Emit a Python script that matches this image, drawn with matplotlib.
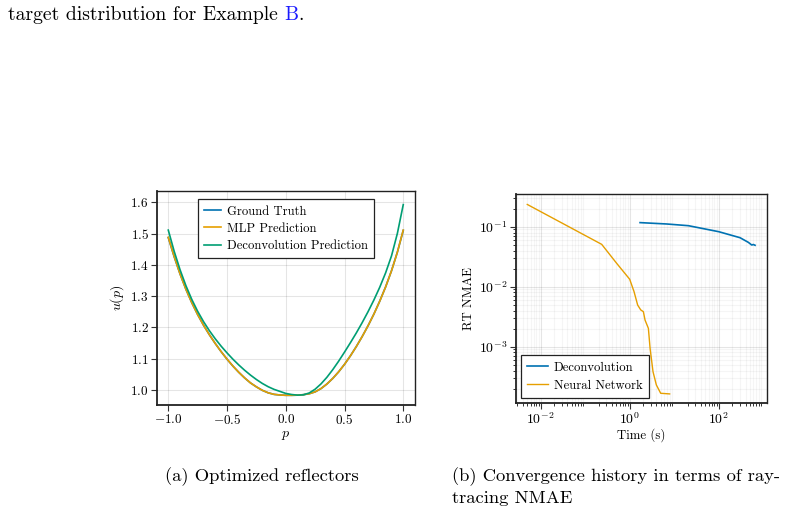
import matplotlib
matplotlib.use("Agg")
import matplotlib.pyplot as plt
from matplotlib.ticker import LogLocator, NullFormatter, FixedLocator

plt.rcParams['font.family'] = ['cmr10', 'DejaVu Serif']
plt.rcParams['mathtext.fontset'] = 'cm'
plt.rcParams['axes.formatter.use_mathtext'] = True
plt.rcParams['axes.unicode_minus'] = True

BLUE = (0/255, 114/255, 178/255)
ORANGE = (230/255, 159/255, 0/255)
GREEN = (0/255, 158/255, 115/255)

# ---- (a) reflectors ----
p = [-1.00, -0.95, -0.90, -0.85, -0.80, -0.75, -0.70, -0.65, -0.60, -0.55, -0.50,
     -0.45, -0.40, -0.35, -0.30, -0.25, -0.20, -0.15, -0.10, -0.05, 0.00,
     0.05, 0.10, 0.15, 0.20, 0.25, 0.30, 0.35, 0.40, 0.45, 0.50,
     0.55, 0.60, 0.65, 0.70, 0.75, 0.80, 0.85, 0.90, 0.95, 1.00]
u_truth = [1.487, 1.426, 1.371, 1.322, 1.279, 1.241, 1.207, 1.1765, 1.1485, 1.1225, 1.0985,
           1.0765, 1.0565, 1.0385, 1.0225, 1.010, 0.999, 0.991, 0.986, 0.984, 0.983,
           0.983, 0.9835, 0.985, 0.988, 0.994, 1.0045, 1.019, 1.037, 1.058, 1.082,
           1.109, 1.1385, 1.1705, 1.205, 1.2425, 1.284, 1.3295, 1.381, 1.4405, 1.510]
u_mlp = [1.488, 1.427, 1.371, 1.322, 1.279, 1.241, 1.207, 1.1765, 1.1485, 1.1225, 1.0985,
         1.0765, 1.0565, 1.0385, 1.0225, 1.010, 0.999, 0.991, 0.986, 0.984, 0.983,
         0.983, 0.9835, 0.985, 0.988, 0.994, 1.0045, 1.019, 1.037, 1.058, 1.082,
         1.109, 1.1385, 1.1705, 1.205, 1.2425, 1.284, 1.3295, 1.381, 1.4405, 1.511]
u_deconv = [1.511, 1.4435, 1.3845, 1.3335, 1.2895, 1.2515, 1.2185, 1.1895, 1.1635, 1.140, 1.1185,
            1.0985, 1.080, 1.063, 1.0475, 1.0335, 1.021, 1.0105, 1.002, 0.9955, 0.989,
            0.9855, 0.9835, 0.9845, 0.9905, 1.0025, 1.0195, 1.0405, 1.065, 1.092, 1.121,
            1.151, 1.182, 1.215, 1.250, 1.2875, 1.3285, 1.3745, 1.4285, 1.5005, 1.5925]

# ---- (b) convergence ----
t_deconv = [1.71, 6.8, 20.8, 100, 301, 464, 552, 600, 656]
e_deconv = [0.117, 0.111, 0.104, 0.0826, 0.0656, 0.0548, 0.0495, 0.0505, 0.0490]
t_nn = [0.005, 0.235, 0.51, 1.0, 1.25, 1.51, 1.77, 2.03, 2.21, 2.63, 2.87, 3.34, 3.97, 4.97, 7.9]
e_nn = [0.235, 0.0508, 0.0245, 0.0133, 0.0083, 0.00494, 0.0041, 0.00383, 0.00278,
        0.00202, 0.00094, 0.000383, 0.00023, 0.000167, 0.000163]

W, H = 786, 513
fig = plt.figure(figsize=(W / 100, H / 100), dpi=100)

def style_axes(ax, labelsize):
    for s in ax.spines.values():
        s.set_color('#222222')
        s.set_linewidth(1.0)
    ax.spines['left'].set_linewidth(1.3)
    ax.spines['bottom'].set_linewidth(1.3)
    ax.tick_params(which='major', direction='out', length=4, width=0.8,
                   color='#333333', labelsize=labelsize, pad=2)
    ax.set_axisbelow(True)

ax1 = fig.add_axes([157 / W, 1 - 405 / H, 258 / W, 214 / H])
ax1.plot(p, u_truth, color=BLUE, lw=1.2, label='Ground Truth')
ax1.plot(p, u_mlp, color=ORANGE, lw=1.2, label='MLP Prediction')
ax1.plot(p, u_deconv, color=GREEN, lw=1.2, label='Deconvolution Prediction')
ax1.set_xlim(-1.096, 1.1)
ax1.set_ylim(0.952, 1.636)
ax1.set_xticks([-1.0, -0.5, 0.0, 0.5, 1.0])
ax1.set_yticks([1.0, 1.1, 1.2, 1.3, 1.4, 1.5, 1.6])
ax1.set_xticklabels(['$-1.0$', '$-0.5$', '$0.0$', '$0.5$', '$1.0$'])
ax1.set_yticklabels(['$1.0$', '$1.1$', '$1.2$', '$1.3$', '$1.4$', '$1.5$', '$1.6$'])
ax1.grid(True, color='black', alpha=0.1, lw=0.8)
ax1.set_xlabel('$p$', fontsize=10, labelpad=1)
ax1.set_ylabel('$u(p)$', fontsize=10, labelpad=3)
style_axes(ax1, 9.5)
leg1 = ax1.legend(loc='upper center', bbox_to_anchor=(0.5, 0.962), fontsize=9.1,
                  frameon=True, fancybox=False, edgecolor='#222222', framealpha=1,
                  handlelength=1.3, handletextpad=0.5, borderpad=0.5,
                  labelspacing=0.4, borderaxespad=0)
leg1.get_frame().set_linewidth(0.9)

ax2 = fig.add_axes([516 / W, 1 - 403 / H, 251 / W, 209 / H])
ax2.plot(t_deconv, e_deconv, color=BLUE, lw=1.2, label='Deconvolution')
ax2.plot(t_nn, e_nn, color=ORANGE, lw=1.0, label='Neural Network')
ax2.set_xscale('log')
ax2.set_yscale('log')
ax2.set_xlim(0.00279, 1216)
ax2.set_ylim(1.15e-4, 0.351)
ax2.xaxis.set_major_locator(FixedLocator([1e-2, 1e0, 1e2]))
ax2.yaxis.set_major_locator(FixedLocator([1e-3, 1e-2, 1e-1]))
ax2.xaxis.set_minor_locator(LogLocator(base=10, subs=range(2, 10), numticks=20))
ax2.yaxis.set_minor_locator(LogLocator(base=10, subs=range(2, 10), numticks=20))
ax2.xaxis.set_minor_formatter(NullFormatter())
ax2.yaxis.set_minor_formatter(NullFormatter())
ax2.grid(True, which='major', color='black', alpha=0.1, lw=0.8)
ax2.grid(True, which='minor', color='black', alpha=0.04, lw=0.8)
ax2.set_xlabel('Time (s)', fontsize=9.3, labelpad=1)
ax2.set_ylabel('RT NMAE', fontsize=9.3, labelpad=3)
style_axes(ax2, 10)
ax2.tick_params(which='minor', direction='out', length=2.5, width=0.7, color='#333333')
leg2 = ax2.legend(loc='lower left', bbox_to_anchor=(0.02, 0.024), fontsize=9.1,
                  frameon=True, fancybox=False, edgecolor='#222222', framealpha=1,
                  handlelength=1.6, handletextpad=0.5, borderpad=0.5,
                  labelspacing=0.45, borderaxespad=0)
leg2.get_frame().set_linewidth(0.9)

# ---- surrounding page text ----
fs_top = 14.2
fs_cap = 13.4
t1 = fig.text(8 / W, 1 - 20 / H, 'target distribution for Example ', fontsize=fs_top,
              ha='left', va='baseline')
fig.canvas.draw()
bb = t1.get_window_extent()
t2 = fig.text(bb.x1 / W, 1 - 20 / H, 'B', fontsize=fs_top, color='#1a1aff',
              ha='left', va='baseline')
fig.canvas.draw()
bb2 = t2.get_window_extent()
fig.text(bb2.x1 / W, 1 - 20 / H, '.', fontsize=fs_top, ha='left', va='baseline')

fig.text(165 / W, 1 - 481 / H, '(a) Optimized reflectors', fontsize=fs_cap,
         ha='left', va='baseline')
fig.text(452 / W, 1 - 481 / H, '(b) Convergence history in terms of ray-',
         fontsize=fs_cap, ha='left', va='baseline')
fig.text(452 / W, 1 - 503 / H, 'tracing NMAE', fontsize=fs_cap,
         ha='left', va='baseline')

fig.savefig('out.png', dpi=100)
